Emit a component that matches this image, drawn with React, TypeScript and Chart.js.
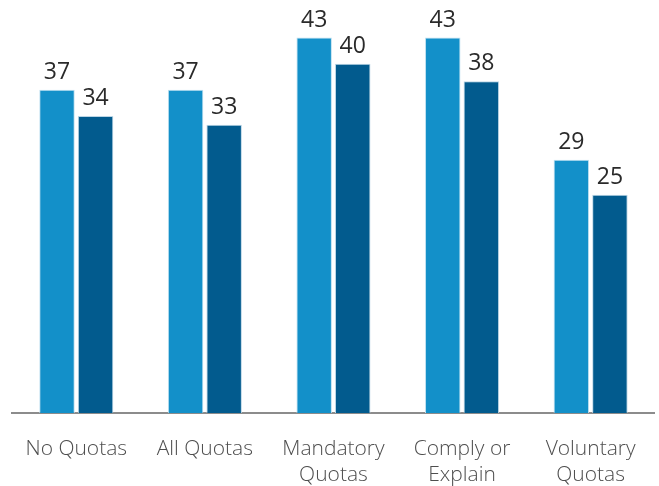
import React, { useEffect, useRef } from "react";
import { Chart, registerables } from "chart.js";

Chart.register(...registerables);

const categories: string[][] = [
  ["No Quotas"],
  ["All Quotas"],
  ["Mandatory", "Quotas"],
  ["Comply or", "Explain"],
  ["Voluntary", "Quotas"],
];
const seriesA: number[] = [37, 37, 43, 43, 29];
const seriesB: number[] = [34, 33, 40, 38, 25];

const FONT = "'Open Sans', 'Noto Sans', sans-serif";

const valueLabels = {
  id: "valueLabels",
  afterDatasetsDraw(chart: any) {
    const ctx = chart.ctx;
    ctx.save();
    ctx.font = `400 23px ${FONT}`;
    ctx.fillStyle = "#2a2a2a";
    ctx.textAlign = "center";
    ctx.textBaseline = "bottom";
    chart.data.datasets.forEach((ds: any, i: number) => {
      const meta = chart.getDatasetMeta(i);
      meta.data.forEach((el: any, j: number) => {
        ctx.fillText(String(ds.data[j]), el.x, el.y - 6);
      });
    });
    ctx.restore();
  },
};

export default function App() {
  const ref = useRef<HTMLCanvasElement>(null);
  useEffect(() => {
    if (!ref.current) return;
    const chart = new Chart(ref.current, {
      type: "bar",
      data: {
        labels: categories,
        datasets: [
          {
            data: seriesA,
            backgroundColor: "#1390c9",
            borderColor: "#bfe0f0",
            borderWidth: 1,
            barPercentage: 0.92,
            categoryPercentage: 0.6,
          },
          {
            data: seriesB,
            backgroundColor: "#025b8e",
            borderColor: "#bcd6e6",
            borderWidth: 1,
            barPercentage: 0.92,
            categoryPercentage: 0.6,
          },
        ],
      },
      options: {
        animation: false,
        responsive: false,
        maintainAspectRatio: false,
        layout: { padding: { top: 20, left: 12, right: 4, bottom: 0 } },
        plugins: {
          legend: { display: false },
          tooltip: { enabled: false },
        },
        scales: {
          x: {
            grid: { display: false, drawTicks: false },
            border: { display: true, color: "#8c8c8c", width: 2 },
            afterFit: (scale: any) => {
              scale.height = 73;
            },
            ticks: {
              padding: 23,
              color: "#4e4e4e",
              font: { family: FONT, size: 21, weight: 300, lineHeight: 1.25 },
              maxRotation: 0,
              autoSkip: false,
            },
          },
          y: {
            display: false,
            min: 0,
            max: 45,
          },
        },
      },
      plugins: [valueLabels],
    });
    return () => chart.destroy();
  }, []);
  return (
    <div style={{ position: "fixed", left: 0, top: 0, width: 659, height: 486, background: "#fff" }}>
      <canvas ref={ref} width={659} height={486} style={{ display: "block" }} />
    </div>
  );
}
